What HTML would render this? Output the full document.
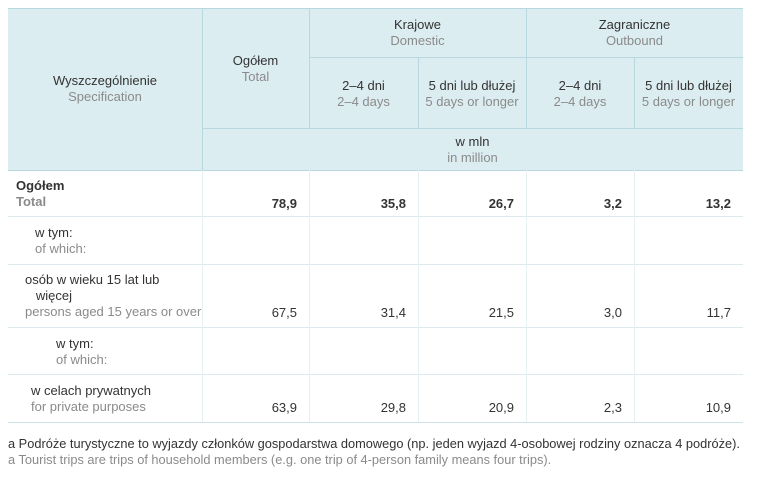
<!DOCTYPE html>
<html><head><meta charset="utf-8"><style>
body{margin:0;width:778px;height:488px;background:#fff;position:relative;overflow:hidden;font-family:"Liberation Sans",sans-serif;}
.a{position:absolute;box-sizing:border-box;}
.h{background:#dcedf2;}
.t{position:absolute;text-align:center;font-size:13px;line-height:16px;color:#333;}
.g{color:#8a8a8a;}
.hl{position:absolute;background:#b8d8e0;height:1px;}
.vl{position:absolute;background:#b8d8e0;width:1px;}
.bl{position:absolute;background:#dceaee;height:1px;}
.bv{position:absolute;background:#e6eff2;width:1px;}
.lab{position:absolute;font-size:13px;line-height:16px;color:#333;}
.num{position:absolute;font-size:13px;text-align:right;color:#333;}
</style></head><body>
<div class="a h" style="left:8px;top:8px;width:735px;height:162px;"></div>
<div class="hl" style="left:8px;top:8px;width:735px"></div>
<div class="hl" style="left:309px;top:57px;width:434px"></div>
<div class="hl" style="left:202px;top:128px;width:541px"></div>
<div class="hl" style="left:8px;top:170px;width:735px"></div>
<div class="vl" style="left:202px;top:8px;height:162px"></div>
<div class="vl" style="left:309px;top:8px;height:120px"></div>
<div class="vl" style="left:526px;top:8px;height:120px"></div>
<div class="vl" style="left:418px;top:57px;height:71px"></div>
<div class="vl" style="left:634px;top:57px;height:71px"></div>

<div class="t" style="left:8px;width:194px;top:73px">Wyszczególnienie<br><span class="g">Specification</span></div>
<div class="t" style="left:202px;width:107px;top:53px">Ogółem<br><span class="g">Total</span></div>
<div class="t" style="left:309px;width:217px;top:17px">Krajowe<br><span class="g">Domestic</span></div>
<div class="t" style="left:526px;width:217px;top:17px">Zagraniczne<br><span class="g">Outbound</span></div>
<div class="t" style="left:309px;width:109px;top:78px">2–4 dni<br><span class="g">2–4 days</span></div>
<div class="t" style="left:418px;width:108px;top:78px">5 dni lub dłużej<br><span class="g">5 days or longer</span></div>
<div class="t" style="left:526px;width:108px;top:78px">2–4 dni<br><span class="g">2–4 days</span></div>
<div class="t" style="left:634px;width:109px;top:78px">5 dni lub dłużej<br><span class="g">5 days or longer</span></div>
<div class="t" style="left:202px;width:541px;top:134px">w mln<br><span class="g">in million</span></div>

<div class="bl" style="left:8px;top:216px;width:735px"></div>
<div class="bl" style="left:8px;top:264px;width:735px"></div>
<div class="bl" style="left:8px;top:327px;width:735px"></div>
<div class="bl" style="left:8px;top:374px;width:735px"></div>
<div class="bl" style="left:8px;top:422px;width:735px;background:#cfe2e8"></div>
<div class="bv" style="left:202px;top:170px;height:252px"></div>
<div class="bv" style="left:309px;top:170px;height:252px"></div>
<div class="bv" style="left:418px;top:170px;height:252px"></div>
<div class="bv" style="left:526px;top:170px;height:252px"></div>
<div class="bv" style="left:634px;top:170px;height:252px"></div>

<div class="lab" style="left:16px;top:178px;font-weight:bold">Ogółem<br><span class="g">Total</span></div>
<div class="lab" style="left:35px;top:225px">w tym:<br><span class="g">of which:</span></div>
<div class="lab" style="left:25px;top:272px">osób w wieku 15 lat lub<br>&nbsp;&nbsp;&nbsp;więcej<br><span class="g">persons aged 15 years or over</span></div>
<div class="lab" style="left:56px;top:336px">w tym:<br><span class="g">of which:</span></div>
<div class="lab" style="left:31px;top:383px">w celach prywatnych<br><span class="g">for private purposes</span></div>

<div id="nums"></div>

<div class="lab" style="left:8px;top:436px;font-size:12.8px;">a Podróże turystyczne to wyjazdy członków gospodarstwa domowego (np. jeden wyjazd 4-osobowej rodziny oznacza 4 podróże).</div>
<div class="lab g" style="left:8px;top:452px;font-size:12.8px;color:#8a8a8a">a Tourist trips are trips of household members (e.g. one trip of 4-person family means four trips).</div>
<script>
const rowTotal=["78,9","35,8","26,7","3,2","13,2"];
const row15=["67,5","31,4","21,5","3,0","11,7"];
const rowPrivate=["63,9","29,8","20,9","2,3","10,9"];
const colRight=[297,406,514,622,731];
const rows=[[rowTotal,196,true,'total'],[row15,305,false,'aged-15-plus'],[rowPrivate,400,false,'private']];
const c=document.getElementById('nums');
rows.forEach(r=>{r[0].forEach((v,i)=>{const d=document.createElement('div');d.className='num';


d.style.right=(778-colRight[i])+'px';d.style.top=r[1]+'px';if(r[2])d.style.fontWeight='bold';d.textContent=v;c.appendChild(d);});});
</script>
</body></html>
